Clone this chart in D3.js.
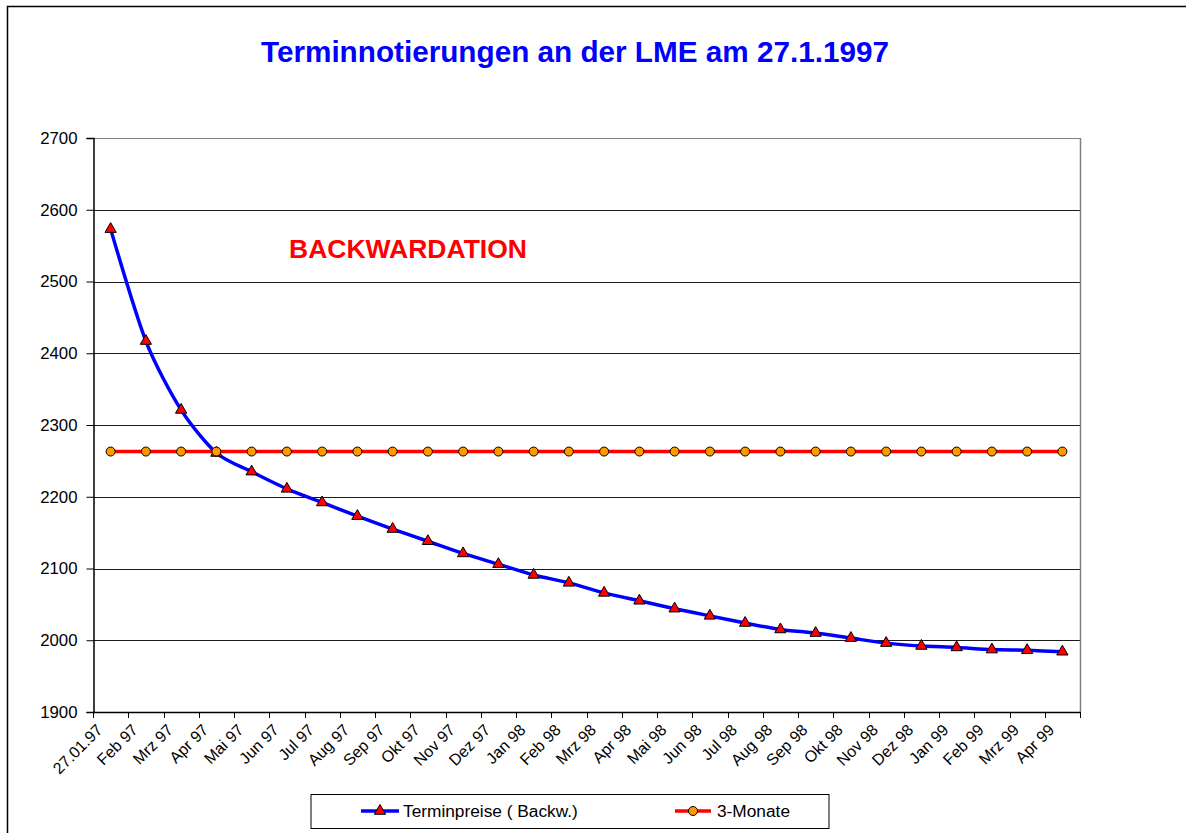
<!DOCTYPE html>
<html>
<head>
<meta charset="utf-8">
<script src="https://cdn.jsdelivr.net/npm/d3@7"></script>
<style>
  html, body { margin: 0; padding: 0; background: #fff; }
  svg { display: block; font-family: "Liberation Sans", Arial, sans-serif; }
</style>
</head>
<body>
<svg id="chart" width="1186" height="833"></svg>
<script>
const categories = ["27.01.97","Feb 97","Mrz 97","Apr 97","Mai 97","Jun 97","Jul 97","Aug 97","Sep 97","Okt 97","Nov 97","Dez 97","Jan 98","Feb 98","Mrz 98","Apr 98","Mai 98","Jun 98","Jul 98","Aug 98","Sep 98","Okt 98","Nov 98","Dez 98","Jan 99","Feb 99","Mrz 99","Apr 99"];
const terminpreise = [2573, 2417, 2321, 2261, 2235, 2211, 2192, 2173, 2155, 2138, 2121, 2106, 2091, 2080, 2066, 2055, 2044, 2034, 2024, 2015, 2010, 2003, 1996, 1992, 1990, 1987, 1986, 1984];
const dreiMonate = [2263, 2263, 2263, 2263, 2263, 2263, 2263, 2263, 2263, 2263, 2263, 2263, 2263, 2263, 2263, 2263, 2263, 2263, 2263, 2263, 2263, 2263, 2263, 2263, 2263, 2263, 2263, 2263];
const yTicks = [1900, 2000, 2100, 2200, 2300, 2400, 2500, 2600, 2700];
const seriesNames = ["Terminpreise ( Backw.)", "3-Monate"];
const titleText = "Terminnotierungen an der LME am 27.1.1997";
const annotationText = "BACKWARDATION";

const svg = d3.select("#chart");
const L = 93, R = 1080, T = 138, B = 712;

// outer chart border
svg.append("rect").attr("x", 7.5).attr("y", 6.5).attr("width", 1200).attr("height", 900)
  .attr("fill", "#fff").attr("stroke", "#000").attr("stroke-width", 1.5);

const x = d3.scaleBand().domain(categories).range([L, R]).padding(0);
const y = d3.scaleLinear().domain([1900, 2700]).range([B, T]);
const cx = c => x(c) + x.bandwidth() / 2;

// gridlines
svg.append("g").selectAll("line").data(yTicks.filter(v => v !== 1900)).join("line")
  .attr("x1", L).attr("x2", R)
  .attr("y1", d => Math.round(y(d)) + 0.5).attr("y2", d => Math.round(y(d)) + 0.5)
  .attr("stroke", d => d === 2700 ? "#808080" : "#1a1a1a").attr("stroke-width", 1);

// right border
svg.append("line").attr("x1", R + 0.5).attr("x2", R + 0.5).attr("y1", T).attr("y2", B)
  .attr("stroke", "#808080").attr("stroke-width", 1.5);

// y axis
const yAxis = d3.axisLeft(y).tickValues(yTicks).tickSize(7).tickPadding(9).tickFormat(d3.format("d"));
const gy = svg.append("g").attr("transform", `translate(${L + 0.5},0)`).call(yAxis);
gy.selectAll("text").attr("font-size", 16.8).attr("fill", "#000").attr("font-family", "Liberation Sans, Arial, sans-serif");
gy.selectAll("line").attr("stroke", "#000");
gy.select(".domain").attr("stroke", "#000").attr("stroke-width", 1.5);

// x axis line and ticks at category boundaries
const gx = svg.append("g");
gx.append("line").attr("x1", L).attr("x2", R).attr("y1", B + 0.5).attr("y2", B + 0.5)
  .attr("stroke", "#000").attr("stroke-width", 1.5);
const boundaries = categories.map(c => x(c)).concat([R]);
gx.selectAll("line.tk").data(boundaries).join("line").attr("class", "tk")
  .attr("x1", d => Math.round(d) + 0.5).attr("x2", d => Math.round(d) + 0.5)
  .attr("y1", B).attr("y2", B + 6).attr("stroke", "#000");
gx.selectAll("text").data(categories).join("text")
  .attr("transform", d => `translate(${cx(d) - 11},${B + 15}) rotate(-45)`)
  .attr("text-anchor", "end").attr("dy", "0.35em")
  .attr("font-size", 16).attr("fill", "#000")
  .text(d => d);

// 3-Monate line
const line = d3.line().x((d, i) => cx(categories[i])).y(d => y(d));
svg.append("path").datum(dreiMonate).attr("d", line)
  .attr("fill", "none").attr("stroke", "#ff0000").attr("stroke-width", 3.5);

// Terminpreise line (smoothed)
const smooth = d3.line().x((d, i) => cx(categories[i])).y(d => y(d)).curve(d3.curveCardinal.tension(0.2));
svg.append("path").datum(terminpreise).attr("d", smooth)
  .attr("fill", "none").attr("stroke", "#0000ff").attr("stroke-width", 3.5);

// markers
const tri = d3.symbol().type(d3.symbolTriangle).size(55);
svg.append("g").selectAll("path").data(terminpreise).join("path")
  .attr("d", tri)
  .attr("transform", (d, i) => `translate(${cx(categories[i])},${y(d)})`)
  .attr("fill", "#ff0000").attr("stroke", "#000").attr("stroke-width", 1);
svg.append("g").selectAll("circle").data(dreiMonate).join("circle")
  .attr("cx", (d, i) => cx(categories[i])).attr("cy", d => y(d)).attr("r", 4.5)
  .attr("fill", "#ff9900").attr("stroke", "#000").attr("stroke-width", 1);

// title
svg.append("text").attr("x", 575).attr("y", 62).attr("text-anchor", "middle")
  .attr("font-size", 29.7).attr("font-weight", "bold").attr("fill", "#0000ff").text(titleText);

// annotation
svg.append("text").attr("x", 289).attr("y", 258)
  .attr("font-size", 26.5).attr("font-weight", "bold").attr("fill", "#ff0000").text(annotationText);

// legend
const lg = svg.append("g");
lg.append("rect").attr("x", 311).attr("y", 794.5).attr("width", 518).attr("height", 34)
  .attr("fill", "#fff").attr("stroke", "#000").attr("stroke-width", 1);
const ly = 811;
lg.append("line").attr("x1", 361).attr("x2", 399).attr("y1", ly).attr("y2", ly).attr("stroke", "#0000ff").attr("stroke-width", 3.5);
lg.append("path").attr("d", tri).attr("transform", `translate(380,${ly})`).attr("fill", "#ff0000").attr("stroke", "#000");
lg.append("text").attr("x", 403).attr("y", ly).attr("dy", "0.35em").attr("font-size", 17.3).attr("fill", "#000").text(seriesNames[0]);
lg.append("line").attr("x1", 675).attr("x2", 711).attr("y1", ly).attr("y2", ly).attr("stroke", "#ff0000").attr("stroke-width", 3.5);
lg.append("circle").attr("cx", 693).attr("cy", ly).attr("r", 4.5).attr("fill", "#ff9900").attr("stroke", "#000");
lg.append("text").attr("x", 717).attr("y", ly).attr("dy", "0.35em").attr("font-size", 17.3).attr("fill", "#000").text(seriesNames[1]);
</script>
</body>
</html>
